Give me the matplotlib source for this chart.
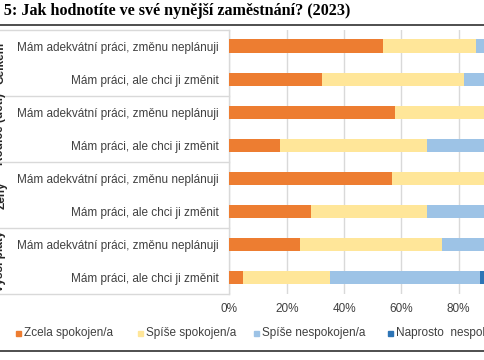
import matplotlib.pyplot as plt
from matplotlib.patches import Rectangle
from matplotlib.lines import Line2D
import matplotlib.transforms as mtransforms
import numpy as np

plt.rcParams['font.family'] = ['Liberation Sans', 'DejaVu Sans']

# Data (shares in %)
groups = ["Celkem", "Rodiče (děti)", "Ženy", "Vyšší platy"]
rows = ["Mám adekvátní práci, změnu neplánuji", "Mám práci, ale chci ji změnit"] * 4
series = ["Zcela spokojen/a", "Spíše spokojen/a", "Spíše nespokojen/a", "Naprosto  nespokojen/a"]
zcela = [53.7, 32.3, 57.9, 17.5, 56.8, 28.6, 24.7, 4.6]
spise_spok = [32.2, 49.4, 35.0, 51.3, 36.0, 40.2, 49.6, 30.6]
spise_nespok = [11.0, 15.0, 5.0, 25.0, 5.0, 25.0, 22.0, 52.2]
naprosto = [3.1, 3.3, 2.1, 6.2, 2.2, 6.2, 3.7, 12.6]
colors = ["#ED7D31", "#FFE699", "#9DC3E6", "#2E75B6"]

W, H = 485, 360
fig = plt.figure(figsize=(W / 100, H / 100), dpi=100)

# axes extends beyond right edge (image is cropped)
x0, x1 = 229.5, 516.0
y0, y1 = 29.5, 294.3
ax = fig.add_axes([x0 / W, 1 - y1 / H, (x1 - x0) / W, (y1 - y0) / H])

y = np.arange(len(rows))
left = np.zeros(len(rows))
for vals, c in zip([zcela, spise_spok, spise_nespok, naprosto], colors):
    ax.barh(y, vals, left=left, height=0.4, color=c, zorder=3)
    left += np.array(vals)

ax.set_xlim(0, 100)
ax.set_ylim(len(rows) - 0.5, -0.5)
ax.set_xticks(np.arange(0, 101, 20))
ax.set_xticklabels([f"{v}%" for v in range(0, 101, 20)], fontsize=8.5, color="#404040")
ax.set_yticks(y)
ax.set_yticklabels(rows, fontsize=8.5, color="#404040")
ax.tick_params(axis="both", length=0)
ax.tick_params(axis="y", pad=7.5)
ax.tick_params(axis="x", pad=6)
ax.grid(axis="x", color="#D9D9D9", linewidth=1, zorder=0)
for s in ax.spines.values():
    s.set_visible(False)

# group boxes on the left
trans = mtransforms.blended_transform_factory(ax.transAxes, ax.transData)
xl = -x0 / (x1 - x0)
for b in np.arange(-0.5, len(rows), 2):
    ax.add_line(Line2D([xl, 0], [b, b], transform=trans, color="#D9D9D9",
                       linewidth=1, clip_on=False))
ax.add_line(Line2D([0, 0], [-0.5, len(rows) - 0.5], transform=trans, color="#D9D9D9",
                   linewidth=1, clip_on=False))
for i, g in enumerate(groups):
    fig.text(0.5 / W, 1 - (y0 + (i + 0.5) * (y1 - y0) / 4) / H, g, rotation=90,
             ha="center", va="center", fontsize=8.5, fontweight="bold", color="#262626")

# title and rules
fig.text(350 / W, 1 - 11 / H, "Obrázek 5: Jak hodnotíte ve své nynější zaměstnání? (2023)",
         ha="right", va="center", fontsize=11.6, fontweight="bold",
         family=["Liberation Serif", "DejaVu Serif"])
fig.add_artist(Line2D([0, 1], [1 - 25 / H, 1 - 25 / H], color="#404040", linewidth=1.3))
fig.add_artist(Line2D([0, 1], [1 - 351 / H, 1 - 351 / H], color="#404040", linewidth=1.3))

# legend
leg_x = [16, 138, 254, 388]
for lx, lab, c in zip(leg_x, series, colors):
    fig.add_artist(Rectangle((lx / W, 1 - 336 / H), 5 / W, 5 / H, color=c))
    fig.text((lx + 8) / W, 1 - 333 / H, lab, ha="left", va="center", fontsize=8.5, color="#404040")

fig.savefig("out.png", dpi=100)
